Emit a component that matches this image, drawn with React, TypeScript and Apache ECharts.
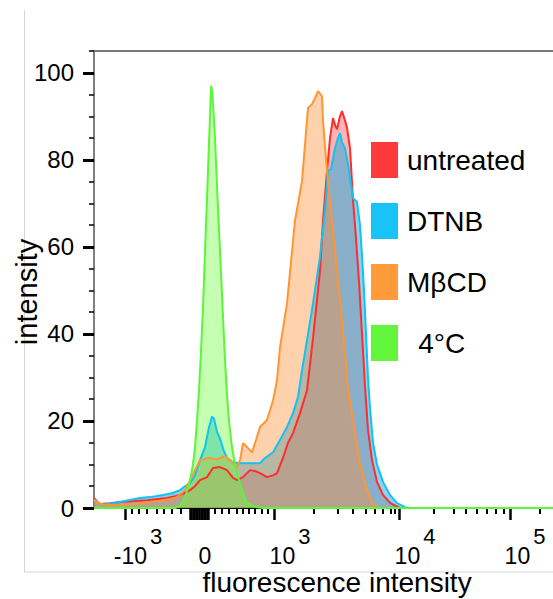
import { useEffect, useRef } from "react";
import * as echarts from "echarts";

// x values are display channels of the logicle axis (0 = left edge of the plot)
const seriesNames = ["untreated", "DTNB", "MβCD", "4°C"];

const untreated: [number, number][] = [
  [0, 2.3], [3, 1.5], [6, 0.9], [16, 1.1], [26, 1.4], [41, 1.6], [53, 1.8], [66, 2.1], [73, 2.3],
  [81, 2.7], [86, 3.0], [91, 3.5], [96, 4.1], [101, 5.0], [106, 6.4], [113, 7.1], [119, 9.2],
  [126, 9.4], [133, 8.7], [139, 6.9], [143, 6.4], [149, 7.1], [156, 8.7], [161, 8.5], [166, 8.0],
  [173, 7.1], [179, 7.5], [183, 8.0], [189, 11.5], [194, 15.0], [199, 17.2], [206, 21.8],
  [213, 27.0], [219, 39.0], [226, 54.5], [229, 66.0], [233, 77.4], [236, 85.0], [239, 89.6],
  [241, 88.0], [243, 87.0], [246, 90.0], [248, 91.2], [251, 89.0], [253, 87.4], [256, 82.7],
  [259, 70.8], [262, 62.0], [265, 52.0], [268, 40.0], [271, 28.0], [274, 18.0], [278, 11.0],
  [283, 6.0], [289, 3.0], [296, 1.2], [303, 0.3], [306, 0], [459, 0],
];

const dtnb: [number, number][] = [
  [0, 2.0], [4, 1.2], [9, 0.7], [19, 1.1], [31, 1.6], [46, 2.3], [56, 2.5], [69, 3.0], [78, 3.4],
  [86, 4.1], [91, 5.0], [96, 5.7], [101, 7.5], [106, 11.0], [111, 14.0], [115, 18.5], [118, 21.0],
  [120, 20.5], [123, 17.5], [126, 16.0], [130, 13.0], [133, 11.5], [139, 10.5], [146, 10.3],
  [156, 10.3], [166, 10.3], [171, 11.5], [179, 12.8], [186, 15.6], [193, 18.6], [199, 21.8],
  [204, 25.5], [208, 31.6], [213, 38.5], [219, 47.0], [226, 57.7], [231, 68.5], [234, 77.4],
  [237, 77.9], [241, 82.7], [244, 85.0], [246, 86.1], [248, 84.0], [251, 82.7], [254, 79.0],
  [259, 71.2], [263, 70.3], [266, 65.0], [268, 58.0], [270, 50.0], [272, 40.0], [274, 30.0],
  [276, 23.0], [279, 15.0], [283, 10.0], [289, 6.0], [296, 3.0], [303, 1.1], [311, 0.2],
  [316, 0], [459, 0],
];

const mbcd: [number, number][] = [
  [0, 1.8], [6, 0.9], [16, 0.7], [26, 0.7], [36, 0.9], [46, 1.1], [56, 1.4], [66, 1.6], [76, 2.1],
  [83, 2.5], [91, 4.1], [98, 7.3], [103, 9.6], [106, 11.0], [114, 11.5], [123, 11.2], [131, 11.9],
  [138, 10.5], [143, 9.4], [146, 11.0], [149, 14.9], [153, 14.0], [158, 12.8], [162, 15.6],
  [166, 18.6], [173, 20.2], [179, 24.7], [183, 29.3], [186, 36.9], [193, 47.0], [201, 66.0],
  [208, 75.1], [214, 91.9], [218, 92.8], [221, 94.2], [224, 95.8], [228, 94.6], [229, 88.9],
  [233, 77.4], [238, 66.0], [243, 54.5], [249, 40.8], [254, 27.0], [258, 21.8], [262, 15.6],
  [266, 10.3], [273, 4.1], [279, 0.7], [286, 0], [459, 0],
];

const cold: [number, number][] = [
  [0, 0], [81, 0], [86, 0.5], [91, 2.3], [96, 6.4], [99, 10], [101, 14], [103, 20], [105, 27],
  [107, 36], [109, 46], [111, 59], [113, 71], [115, 84], [116, 90], [117, 97], [118, 96],
  [119, 93], [121, 85], [123, 74], [125, 64], [127, 54], [129, 44], [131, 34], [133, 26],
  [135, 20], [138, 14], [141, 10], [143, 8], [148, 4], [153, 1.2], [161, 0.3], [169, 0], [459, 0],
];

const seriesData = [untreated, dtnb, mbcd, cold];

// axis ticks and labels (display channels)
const yLabelValues = [0, 20, 40, 60, 80, 100];
const xMajorTicks = [31, 105.5, 180, 305, 416];
const xDenseTicks = [96, 97.5, 99, 100.5, 102, 103.5, 107, 108.5, 110, 111.5, 113, 114.5];
const xMinorTicks = [
  38, 45, 53, 63, 70, 78, 87,
  121, 128, 135, 142.5, 149, 154.5, 161, 168, 173.5,
  220, 244, 259, 272, 281, 289, 297, 301,
  339.5, 359.5, 372, 382.5, 392.5, 402, 409.5, 446,
];
const xLabelPositions = [44, 111, 196, 321, 431];
const xLabelBase = ["-10", "0", "10", "10", "10"];
const xLabelExp = ["3", "", "3", "4", "5"];

const lineColors = ["#ff2d2d", "#12c2f2", "#ff9633", "#5cf53a"];
const legendColors = ["#ff3a3a", "#19c3f5", "#ff9b3b", "#62f53a"];
const fillColors = [
  "rgba(255,40,40,0.35)",
  "rgba(20,170,225,0.5)",
  "rgba(255,140,50,0.4)",
  "rgba(110,255,60,0.4)",
];

const FONT = "'Liberation Sans', Arial, Helvetica, sans-serif";

export default function App() {
  const ref = useRef<HTMLDivElement>(null);
  useEffect(() => {
    if (!ref.current) return;
    const chart = echarts.init(ref.current, null, { renderer: "svg" });
    const option: any = {
      animation: false,
      backgroundColor: "#ffffff",
      grid: { left: 94, right: 0, top: 51, bottom: 91, containLabel: false, outerBoundsMode: "none" },
      legend: {
        orient: "vertical",
        left: 371,
        top: 142,
        padding: 0,
        itemWidth: 27,
        itemHeight: 36,
        itemGap: 25,
        icon: "rect",
        textStyle: { fontSize: 28, color: "#000", fontFamily: FONT, padding: [0, 0, 0, 4] },
        formatter: (n: string) => (n === "4°C" ? "\u2009\u2009" + n : n),
        data: seriesNames.map((n, i) => ({ name: n, itemStyle: { color: legendColors[i], borderWidth: 0 } })),
      },
      xAxis: [
        {
          type: "value",
          min: 0,
          max: 459,
          position: "bottom",
          splitLine: { show: false },
          axisLine: { show: true, lineStyle: { color: "#111", width: 2 } },
          axisTick: {
            show: true,
            customValues: [...xMajorTicks, ...xDenseTicks],
            length: 12,
            lineStyle: { color: "#000", width: 2.5 },
          },
          axisLabel: {
            show: true,
            customValues: xLabelPositions,
            margin: 17,
            formatter: (v: number) => {
              const i = xLabelPositions.findIndex((p) => Math.abs(p - v) < 0.01);
              if (i < 0) return "";
              const e = xLabelExp[i];
              return e ? `{b|${xLabelBase[i]}}{s|${e}}` : `{b|${xLabelBase[i]}}`;
            },
            rich: {
              b: { fontSize: 23, fontFamily: FONT, color: "#000", lineHeight: 42, verticalAlign: "bottom" },
              s: { fontSize: 22, fontFamily: FONT, color: "#000", lineHeight: 22, verticalAlign: "top", padding: [0, 0, 0, 3] },
            },
          },
        },
        {
          type: "value",
          min: 0,
          max: 459,
          position: "bottom",
          splitLine: { show: false },
          axisLine: { show: false },
          axisTick: {
            show: true,
            customValues: xMinorTicks,
            length: 6,
            lineStyle: { color: "#000", width: 2 },
          },
          axisLabel: { show: false },
        },
        {
          type: "value",
          min: 0,
          max: 459,
          position: "top",
          splitLine: { show: false },
          axisLine: { show: true, lineStyle: { color: "#777", width: 2 } },
          axisTick: { show: false },
          axisLabel: { show: false },
        },
      ],
      yAxis: [
        {
          type: "value",
          min: 0,
          max: 105,
          position: "left",
          splitLine: { show: false },
          axisLine: { show: true, lineStyle: { color: "#555", width: 1.5 } },
          axisTick: {
            show: true,
            customValues: yLabelValues,
            length: 11,
            lineStyle: { color: "#000", width: 3 },
          },
          axisLabel: {
            show: true,
            customValues: yLabelValues,
            margin: 20,
            fontSize: 24,
            color: "#000",
            fontFamily: FONT,
          },
        },
        {
          type: "value",
          min: 0,
          max: 105,
          interval: 5,
          position: "left",
          splitLine: { show: false },
          axisLine: { show: false },
          axisTick: { show: true, length: 5, lineStyle: { color: "#000", width: 1.5 } },
          axisLabel: { show: false },
        },
      ],
      graphic: [
        { type: "line", shape: { x1: 24.5, y1: 10, x2: 24.5, y2: 572 }, style: { stroke: "#d4d4d4", lineWidth: 1 } },
        { type: "line", shape: { x1: 24.5, y1: 572, x2: 553, y2: 572 }, style: { stroke: "#d4d4d4", lineWidth: 1 } },
        {
          type: "text",
          x: 27,
          y: 292,
          rotation: Math.PI / 2,
          style: { text: "intensity", fontSize: 29, fontFamily: FONT, fill: "#000", align: "center", verticalAlign: "middle" },
        },
        {
          type: "text",
          x: 337,
          y: 582,
          style: { text: "fluorescence intensity", fontSize: 28, fontFamily: FONT, fill: "#000", align: "center", verticalAlign: "middle" },
        },
      ],
      series: seriesNames.map((name, i) => ({
        type: "line",
        name,
        data: seriesData[i],
        xAxisIndex: 0,
        yAxisIndex: 0,
        showSymbol: false,
        symbol: "none",
        smooth: false,
        clip: false,
        lineStyle: { color: lineColors[i], width: 2 },
        itemStyle: { color: legendColors[i] },
        areaStyle: { color: fillColors[i], opacity: 1 },
      })),
    };
    chart.setOption(option);
    return () => chart.dispose();
  }, []);
  return <div ref={ref} style={{ position: "absolute", left: 0, top: 0, width: 553, height: 599 }} />;
}
